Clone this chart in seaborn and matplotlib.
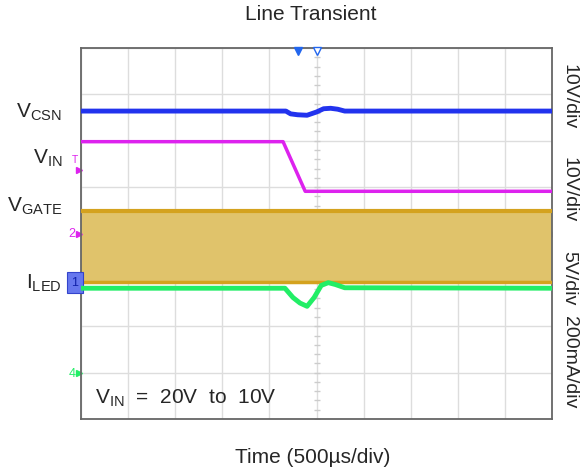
import matplotlib.pyplot as plt
import numpy as np
import pandas as pd
import seaborn as sns

# time in divisions (500us/div), levels in vertical divisions from bottom
vcsn_t = [0, 4.35, 4.45, 4.6, 4.8, 5.0, 5.15, 5.3, 5.45, 5.6, 10]
vcsn_v = [6.64, 6.64, 6.58, 6.56, 6.55, 6.62, 6.69, 6.70, 6.68, 6.64, 6.64]

vin_t = [0, 4.29, 4.76, 10]
vin_v = [5.98, 5.98, 4.91, 4.91]

iled_t = [0, 4.33, 4.5, 4.65, 4.8, 4.95, 5.1, 5.25, 5.4, 5.6, 10]
iled_v = [2.82, 2.82, 2.62, 2.5, 2.43, 2.62, 2.88, 2.94, 2.9, 2.83, 2.82]

gate_t = [0, 10]
gate_hi = [4.49, 4.49]
gate_lo = [2.95, 2.95]

vcsn = pd.DataFrame({"t": vcsn_t, "v": vcsn_v})
vin = pd.DataFrame({"t": vin_t, "v": vin_v})
iled = pd.DataFrame({"t": iled_t, "v": iled_v})

sns.set_style("white")
plt.rcParams['font.family'] = ['Liberation Sans', 'DejaVu Sans']
plt.rcParams['mathtext.default'] = 'regular'

fig = plt.figure(figsize=(5.81, 4.77), dpi=100)
ax = fig.add_axes([81 / 581, 57 / 477, 471 / 581, 371 / 477])

# scope graticule
ax.set_xlim(0, 10)
ax.set_ylim(0, 8)
ax.set_xticks(range(11))
ax.set_yticks(range(9))
ax.set_xticklabels([])
ax.set_yticklabels([])
ax.tick_params(length=0)
ax.grid(True, color="#DDDDDD", lw=1)
for s in ax.spines.values():
    s.set_color("#666666")
    s.set_linewidth(1.3)
ax.plot([5] * 41, np.linspace(0, 8, 41), marker="_", ms=5, color="#CCCCCC", lw=0, zorder=1)
ax.plot(np.linspace(0, 10, 51), [4] * 51, marker="|", ms=5, color="#CCCCCC", lw=0, zorder=1)

# gate switching band
ax.fill_between(gate_t, gate_lo, gate_hi, color="#E0C36B", zorder=2, lw=0)
ax.plot(gate_t, gate_hi, color="#D4A21E", lw=3, zorder=3)
ax.plot(gate_t, gate_lo, color="#D4A21E", lw=2.5, zorder=3)

sns.lineplot(data=vcsn, x="t", y="v", ax=ax, color="#2233EE", lw=3.5, zorder=4)
sns.lineplot(data=vin, x="t", y="v", ax=ax, color="#DD22EE", lw=2.5, zorder=4)
sns.lineplot(data=iled, x="t", y="v", ax=ax, color="#22EE66", lw=3.5, zorder=4)
ax.set_xlabel("")
ax.set_ylabel("")

# trigger markers on top
ax.plot([4.6], [7.93], marker="v", ms=6, color="#2266EE", clip_on=False, zorder=5)
ax.plot([5.0], [7.93], marker="v", ms=6, mfc="white", mec="#2266EE", clip_on=False, zorder=5)

# channel markers on left edge
ax.text(-0.06, 5.6, "T", color="#DD22EE", fontsize=7.5, ha="right", va="center", clip_on=False)
ax.plot([-0.05], [5.38], marker=">", ms=5, color="#DD22EE", clip_on=False)
ax.text(-0.12, 4.0, "2", color="#DD22EE", fontsize=9, ha="right", va="center", clip_on=False)
ax.plot([-0.05], [4.0], marker=">", ms=5, color="#DD22EE", clip_on=False)
ax.text(-0.06, 2.95, "1", color="#1122AA", fontsize=9, ha="right", va="center", clip_on=False,
        bbox=dict(boxstyle="square,pad=0.35", fc="#6677EE", ec="#3344CC", lw=0.8))
ax.text(-0.12, 1.0, "4", color="#22EE66", fontsize=9, ha="right", va="center", clip_on=False)
ax.plot([-0.05], [1.0], marker=">", ms=5, color="#22EE66", clip_on=False)

# channel names
ax.text(-0.4, 6.64, "V$_{CSN}$", fontsize=15, ha="right", va="center", clip_on=False)
ax.text(-0.4, 5.65, "V$_{IN}$", fontsize=15, ha="right", va="center", clip_on=False)
ax.text(-0.4, 4.6, "V$_{GATE}$", fontsize=15, ha="right", va="center", clip_on=False)
ax.text(-0.4, 2.95, "I$_{LED}$", fontsize=15, ha="right", va="center", clip_on=False)

ax.text(0.3, 0.47, "V$_{IN}$  =  20V  to  10V", fontsize=15, ha="left", va="center", zorder=6)

rx = 569 / 581
fig.text(rx, 1 - 97 / 477, "10V/div", rotation=-90, fontsize=14, ha="center", va="center")
fig.text(rx, 1 - 190 / 477, "10V/div", rotation=-90, fontsize=14, ha="center", va="center")
fig.text(rx, 1 - 278 / 477, "5V/div", rotation=-90, fontsize=14, ha="center", va="center")
fig.text(rx, 1 - 362 / 477, "200mA/div", rotation=-90, fontsize=14, ha="center", va="center")

fig.text(311 / 581, 1 - 15 / 477, "Line Transient", fontsize=15, ha="center", va="center")
fig.text(313 / 581, 1 - 458 / 477, "Time (500µs/div)", fontsize=15, ha="center", va="center")

fig.savefig("out.png", dpi=100)
